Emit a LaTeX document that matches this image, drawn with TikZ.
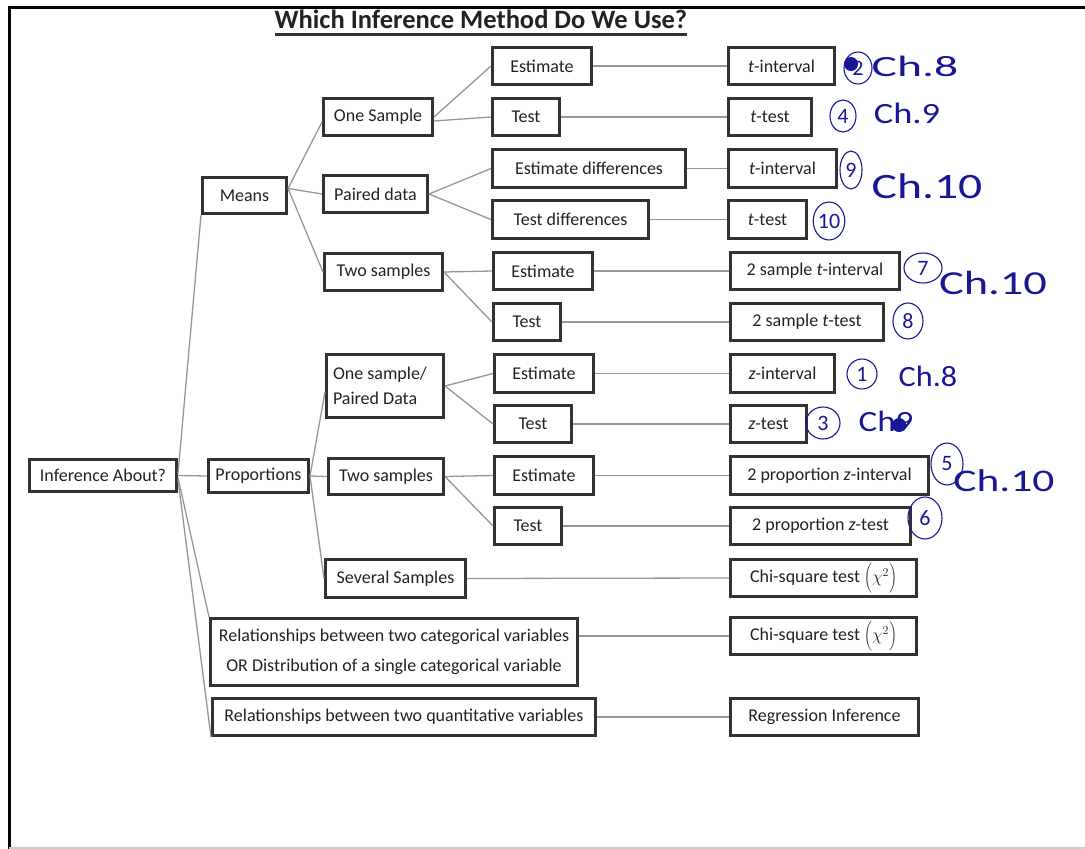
\documentclass[tikz,border=0pt]{standalone}
\usepackage{fontspec}
\setmainfont{Carlito}
\usetikzlibrary{shapes.geometric}
\definecolor{hblue}{RGB}{24,24,150}
\definecolor{txt}{RGB}{34,34,34}
\definecolor{bord}{RGB}{50,50,50}
\definecolor{conncol}{RGB}{150,150,150}
\newcommand\bx[6]{\node[bx, minimum width={#4-#2-2.6}, minimum height={#5-#3-2.6}] (#1) at ({(#2+#4)/2},{(#3+#5)/2}) {#6};}
\newcommand\ring[5]{\node[ringnode, minimum width=#4, minimum height=#5] (#1) at (#2) {#3};}
\newcommand\chisq{Chi-square test $\left(\vrule height 18pt depth 9pt width 0pt\chi^{2}\right)$}
\begin{document}
\begin{tikzpicture}[x=1pt,y=-1pt,
  bx/.style={draw=bord, line width=2.6pt, inner sep=0pt, text=txt, align=center,
    font=\fontsize{18}{22}\selectfont},
  conn/.style={draw=conncol, line width=1.3pt},
  ringnode/.style={ellipse, draw=hblue, line width=1.1pt, inner sep=0pt, text=hblue,
    font=\fontsize{22}{24}\selectfont},
  hand/.style={text=hblue, inner sep=0pt, font=\fontsize{28}{30}\selectfont},
]
\useasboundingbox (0,0) rectangle (1085,849);
% frame
\draw[line width=3pt, black] (9,849) -- (9,7) -- (1085,7);
\draw[line width=1.5pt, black!20] (9,848) -- (1085,848);
% title
\node[inner sep=0pt, text=txt, font=\bfseries\fontsize{26.5}{29}\selectfont] (title) at (481,19) {Which Inference Method Do We Use?};
\draw[line width=2.6pt, bord] ([yshift=-6pt]title.base west) -- ([yshift=-6pt]title.base east);

% level 0-1
\bx{inf}{28}{458}{178}{493}{Inference About?}
\bx{means}{201}{176}{288}{215}{Means}
\bx{prop}{207}{458}{310}{494}{Proportions}
\bx{rel1}{209}{617}{579}{687}{Relationships between two categorical variables\\[8pt]OR Distribution of a single categorical variable}
\bx{rel2}{211}{697}{597}{737}{Relationships between two quantitative variables}
% means level 2
\bx{ones}{322}{97}{434}{137}{One Sample}
\bx{paired}{322}{174}{429}{214}{Paired data}
\bx{twom}{323}{252}{444}{292}{Two samples}
% means level 3
\bx{estA}{491}{46}{593}{86}{Estimate}
\bx{testA}{491}{97}{561}{137}{Test}
\bx{estB}{491}{148}{687}{189}{Estimate differences}
\bx{testB}{491}{199}{650}{240}{Test differences}
\bx{estC}{492}{251}{594}{291}{Estimate}
\bx{testC}{492}{302}{562}{342}{Test}
% means level 4
\bx{tintA}{727}{46}{836}{86}{\textit{t}-interval}
\bx{ttestA}{727}{97}{813}{137}{\textit{t}-test}
\bx{tintB}{727}{148}{838}{189}{\textit{t}-interval}
\bx{ttestB}{727}{199}{808}{240}{\textit{t}-test}
\bx{tintC}{729}{251}{901}{291}{2 sample \textit{t}-interval}
\bx{ttestC}{729}{302}{885}{342}{2 sample \textit{t}-test}
% proportions level 2
\bx{ospd}{325}{353}{445}{419}{\makebox[104pt][l]{One sample/}\\[3pt]\makebox[104pt][l]{Paired Data}}
\bx{twop}{327}{457}{445}{496}{Two samples}
\bx{sev}{324}{558}{467}{599}{Several Samples}
% proportions level 3
\bx{estD}{493}{353}{595}{394}{Estimate}
\bx{testD}{493}{404}{573}{444}{Test}
\bx{estE}{493}{455}{595}{496}{Estimate}
\bx{testE}{493}{506}{563}{546}{Test}
% proportions level 4
\bx{zint}{729}{353}{836}{394}{\textit{z}-interval}
\bx{ztest}{729}{404}{808}{444}{\textit{z}-test}
\bx{pzint}{729}{455}{930}{496}{2 proportion \textit{z}-interval}
\bx{pztest}{729}{506}{912}{546}{2 proportion \textit{z}-test}
\bx{chiA}{729}{558}{918}{598}{\chisq}
\bx{chiB}{729}{616}{918}{656}{\chisq}
\bx{reg}{729}{697}{920}{737}{Regression Inference}

% connectors
\draw[conn] ([yshift=2pt]inf.east) -- (means.south west);
\draw[conn] (inf.east) -- (prop.west);
\draw[conn] ([yshift=-2pt]inf.east) -- (rel1.north west);
\draw[conn] ([yshift=-4pt]inf.east) -- (rel2.south west);
\draw[conn] ([yshift=7pt]means.east) -- ([yshift=-5pt]ones.west);
\draw[conn] ([yshift=7pt]means.east) -- (paired.west);
\draw[conn] ([yshift=7pt]means.east) -- (twom.west);
\draw[conn] (ones.east) -- (estA.west);
\draw[conn] ([yshift=-4pt]ones.east) -- (testA.west);
\draw[conn] (paired.east) -- (estB.west);
\draw[conn] (paired.east) -- (testB.west);
\draw[conn] (twom.east) -- (estC.west);
\draw[conn] (twom.east) -- (testC.west);
\draw[conn] (estA.east) -- (tintA.west);
\draw[conn] (testA.east) -- (ttestA.west);
\draw[conn] (estB.east) -- (tintB.west);
\draw[conn] (testB.east) -- (ttestB.west);
\draw[conn] (estC.east) -- (tintC.west);
\draw[conn] (testC.east) -- (ttestC.west);
\draw[conn] (prop.east) -- ([yshift=-6pt]ospd.west);
\draw[conn] (prop.east) -- (twop.west);
\draw[conn] (prop.east) -- (sev.west);
\draw[conn] (ospd.east) -- (estD.west);
\draw[conn] (ospd.east) -- (testD.west);
\draw[conn] (twop.east) -- (estE.west);
\draw[conn] (twop.east) -- (testE.west);
\draw[conn] (estD.east) -- (zint.west);
\draw[conn] (testD.east) -- (ztest.west);
\draw[conn] (estE.east) -- (pzint.west);
\draw[conn] (testE.east) -- (pztest.west);
\draw[conn] (sev.east) -- (chiA.west);
\draw[conn] (rel1.east |- chiB.west) -- (chiB.west);
\draw[conn] (rel2.east) -- (reg.west);

% handwritten annotations
\ring{r2}{858,68}{2}{28pt}{32pt}
\fill[hblue] (851,64) circle (7pt);
\node[hand] (h1) at (915,66) {\scalebox{1.7}[1.05]{Ch.8}};
\ring{r4}{843,116}{4}{26pt}{32pt}
\node[hand] (h2) at (907,113) {\scalebox{1.3}[1.05]{Ch.9}};
\ring{r9}{851,170}{9}{22pt}{38pt}
\node[hand, font=\fontsize{34}{36}\selectfont] (h3) at (927,186) {\scalebox{1.4}[1.05]{Ch.10}};
\ring{r10}{829,221}{10}{28pt}{38pt}
\ring{r7}{923,268}{7}{38pt}{30pt}
\node[hand, font=\fontsize{32}{34}\selectfont] (h4) at (993,283) {\scalebox{1.45}[1.05]{Ch.10}};
\ring{r8}{908,321}{8}{30pt}{36pt}
\ring{r1}{862,374}{1}{30pt}{30pt}
\node[hand] (h5) at (928,376) {\scalebox{1.15}[1.05]{Ch.8}};
\ring{r3}{823,423}{3}{34pt}{32pt}
\node[hand] (h6) at (886,421) {\scalebox{1.25}[1.05]{Ch9}};
\fill[hblue] (899,425) circle (7pt);
\ring{r5}{947,464}{5}{32pt}{42pt}
\node[hand, font=\fontsize{30}{32}\selectfont] (h7) at (1004,481) {\scalebox{1.45}[1.05]{Ch.10}};
\ring{r6}{925,518}{6}{34pt}{42pt}
\end{tikzpicture}
\end{document}
